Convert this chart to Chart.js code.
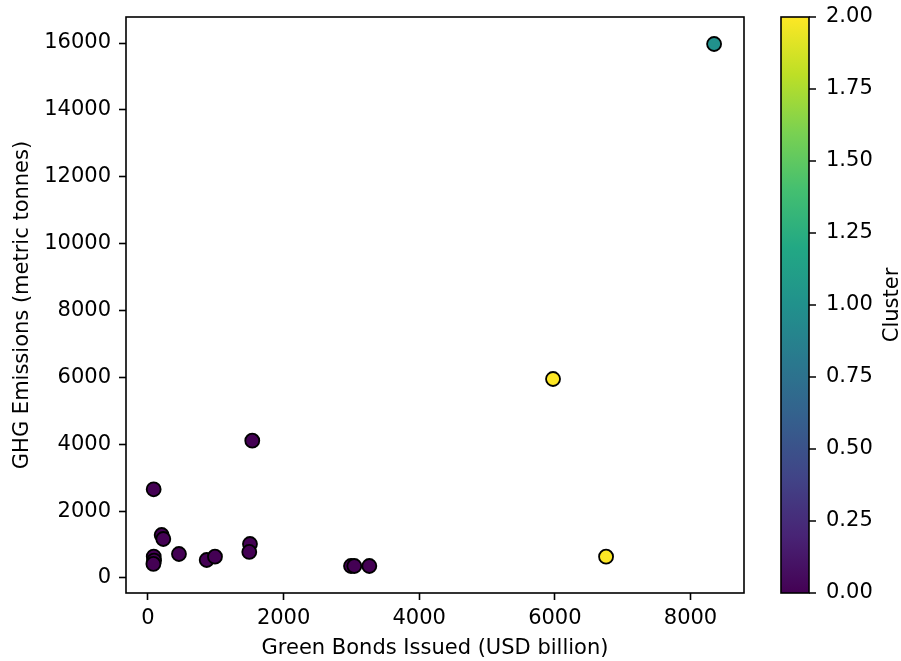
<!DOCTYPE html>
<html lang="en">
<head>
<meta charset="UTF-8">
<title>Green Bonds vs GHG Emissions</title>
<script src="https://cdn.jsdelivr.net/npm/chart.js@4.4.0/dist/chart.umd.min.js"></script>
<style>
  html, body { margin: 0; padding: 0; background: #fff; }
</style>
</head>
<body>
<canvas id="myChart" width="901" height="661"></canvas>
<script>
// values
const bonds     = [1538, 84, 202, 226, 85, 90, 80, 457, 866, 988, 1504, 1494, 2994, 3043, 3264, 6755, 5973, 8348];
const emissions = [4106, 2653, 1286, 1166, 640, 520, 420, 718, 538, 637, 1017, 778, 359, 359, 359, 637, 5951, 15970];
const clusters  = [0, 0, 0, 0, 0, 0, 0, 0, 0, 0, 0, 0, 0, 0, 0, 2, 2, 1];

const xTicks = [0, 2000, 4000, 6000, 8000];
const yTicks = [0, 2000, 4000, 6000, 8000, 10000, 12000, 14000, 16000];
const clusterTicks = [0, 0.25, 0.5, 0.75, 1, 1.25, 1.5, 1.75, 2];

// viridis colormap
const clusterColors = ['#440154', '#21918c', '#fde725'];
const viridis = ['#440154', '#482475', '#414487', '#355f8d', '#2a788e', '#21918c',
                 '#22a884', '#44bf70', '#7ad151', '#bddf26', '#fde725'];

const font = { family: 'DejaVu Sans', size: 21 };
Chart.defaults.color = '#000';

// keep tick labels from pushing the plot area around
function noPad(s) {
  s.paddingTop = 0; s.paddingBottom = 0; s.paddingLeft = 0; s.paddingRight = 0;
}

// axes box, colorbar and its label
const frame = {
  id: 'frame',
  afterDraw(chart) {
    const { ctx, chartArea: a } = chart;
    const c = chart.scales.c;
    ctx.save();
    ctx.strokeStyle = '#000';
    ctx.lineWidth = 1.6;
    ctx.strokeRect(a.left, a.top, a.right - a.left, a.bottom - a.top);

    const top = c.getPixelForValue(2), bottom = c.getPixelForValue(0);
    const x0 = a.right + 37, x1 = a.right + 65;
    const g = ctx.createLinearGradient(0, bottom, 0, top);
    viridis.forEach((col, i) => g.addColorStop(i / (viridis.length - 1), col));
    ctx.fillStyle = g;
    ctx.fillRect(x0, top, x1 - x0, bottom - top);
    ctx.strokeRect(x0, top, x1 - x0, bottom - top);

    ctx.beginPath();
    clusterTicks.forEach(v => {
      const y = c.getPixelForValue(v);
      ctx.moveTo(x1, y);
      ctx.lineTo(x1 + 7, y);
    });
    ctx.stroke();

    ctx.translate(893, (top + bottom) / 2);
    ctx.rotate(-Math.PI / 2);
    ctx.fillStyle = '#000';
    ctx.font = '21px "DejaVu Sans"';
    ctx.textAlign = 'center';
    ctx.textBaseline = 'middle';
    ctx.fillText('Cluster', 0, 0);
    ctx.restore();
  }
};

const ctx = document.getElementById('myChart').getContext('2d');
new Chart(ctx, {
  type: 'scatter',
  data: {
    datasets: [{
      data: bonds.map((b, i) => ({ x: b, y: emissions[i] })),
      backgroundColor: clusters.map(c => clusterColors[c]),
      borderColor: '#000',
      borderWidth: 1.8,
      pointRadius: 7,
      pointHoverRadius: 7
    }]
  },
  options: {
    responsive: false,
    animation: false,
    layout: { padding: { top: 17, right: 0, bottom: 0, left: 0 } },
    plugins: { legend: { display: false }, tooltip: { enabled: false } },
    scales: {
      x: {
        type: 'linear',
        min: -324,
        max: 8789,
        afterBuildTicks: s => { s.ticks = xTicks.map(v => ({ value: v })); },
        afterFit: s => { s.height = 68; noPad(s); },
        grid: { drawOnChartArea: false, tickLength: 7, tickWidth: 1.6, tickColor: '#000' },
        border: { display: false },
        ticks: { font, padding: 6, maxRotation: 0, autoSkip: false, callback: v => String(v) },
        title: { display: true, text: 'Green Bonds Issued (USD billion)', font, padding: { top: 0, bottom: 0 } }
      },
      y: {
        type: 'linear',
        min: -449,
        max: 16778,
        afterBuildTicks: s => { s.ticks = yTicks.map(v => ({ value: v })); },
        afterFit: s => { s.width = 126; noPad(s); },
        grid: { drawOnChartArea: false, tickLength: 7, tickWidth: 1.6, tickColor: '#000' },
        border: { display: false },
        ticks: { font, padding: 8, autoSkip: false, callback: v => String(v) },
        title: { display: true, text: 'GHG Emissions (metric tonnes)', font, padding: { top: 10, bottom: 0 } }
      },
      c: {
        type: 'linear',
        position: 'right',
        min: 0,
        max: 2,
        afterBuildTicks: s => { s.ticks = clusterTicks.map(v => ({ value: v })); },
        afterFit: s => { s.width = 157; noPad(s); },
        grid: { drawOnChartArea: false, tickLength: 72, tickColor: 'rgba(0,0,0,0)' },
        border: { display: false },
        ticks: { font, padding: 10, autoSkip: false, callback: v => v.toFixed(2) }
      }
    }
  },
  plugins: [frame]
});
</script>
</body>
</html>
